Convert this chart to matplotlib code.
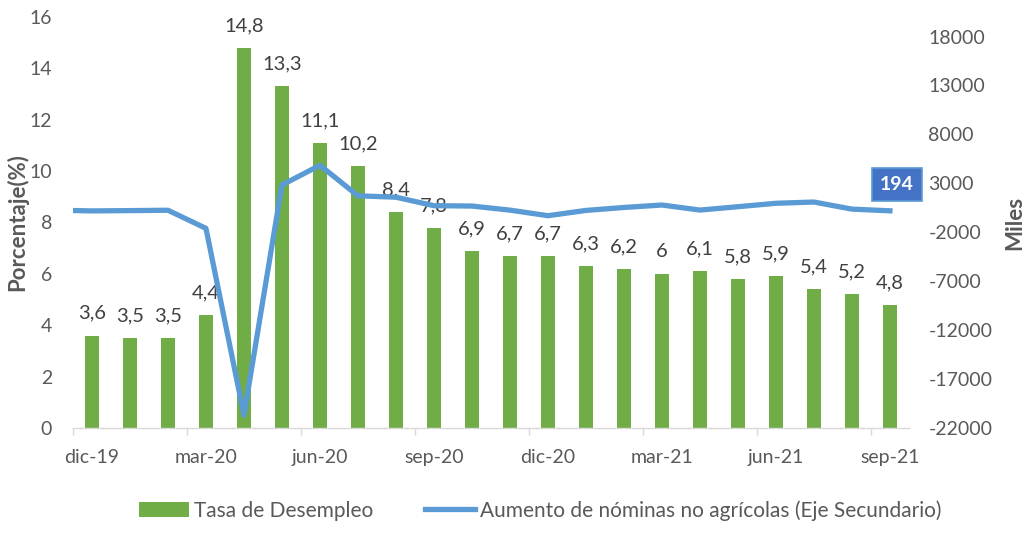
import numpy as np
import matplotlib
matplotlib.use("Agg")
import matplotlib.pyplot as plt
from matplotlib.ticker import FixedLocator, NullFormatter


months = [
    "dic-19", "ene-20", "feb-20", "mar-20", "abr-20", "may-20", "jun-20",
    "jul-20", "ago-20", "sep-20", "oct-20", "nov-20", "dic-20", "ene-21",
    "feb-21", "mar-21", "abr-21", "may-21", "jun-21", "jul-21", "ago-21",
    "sep-21",
]

unemployment = [
    3.6, 3.5, 3.5, 4.4, 14.8, 13.3, 11.1, 10.2, 8.4, 7.8, 6.9,
    6.7, 6.7, 6.3, 6.2, 6.0, 6.1, 5.8, 5.9, 5.4, 5.2, 4.8,
]

# nóminas (miles), first value is nov-19 so the line runs into the left edge
payroll_months = ["nov-19"] + months
payrolls = [
    261, 184, 214, 251, -1600, -20679, 2833, 4846, 1726, 1583, 716, 680,
    264, -306, 233, 536, 785, 269, 614, 962, 1091, 366, 194,
]

left_ticks = [0, 2, 4, 6, 8, 10, 12, 14, 16]
right_ticks = [-22000, -17000, -12000, -7000, -2000, 3000, 8000, 13000, 18000]

GREEN = "#70AD47"
BLUE = "#5B9BD5"
TEXT = "#595959"
LABEL = "#404040"

plt.rcParams["font.family"] = ["Lato", "DejaVu Sans"]
plt.rcParams["axes.unicode_minus"] = False


def fmt(v):
    return f"{v:g}".replace(".", ",")


def main():

    fig = plt.figure(figsize=(10.35, 5.34), dpi=100)
    ax = fig.add_axes([0.0705, 0.1985, 0.8077, 0.7697])

    x = np.arange(len(months))

    bars = ax.bar(x, unemployment, width=0.37, color=GREEN,
                  label="Tasa de Desempleo", zorder=2)

    for bar, v in zip(bars, unemployment):
        ax.annotate(
            fmt(v),
            (bar.get_x() + bar.get_width() / 2, bar.get_height()),
            xytext=(0, 16),
            textcoords="offset points",
            ha="center",
            va="center",
            fontsize=14.5,
            color=LABEL,
            zorder=5,
        )

    ax.set_xlim(-0.5, 21.5)
    ax.set_ylim(0, 16)
    ax.set_yticks(left_ticks)
    ax.tick_params(axis="y", length=0, pad=15, labelsize=14, colors=TEXT)

    # ticks between months, labels under the bars
    ax.xaxis.set_major_locator(FixedLocator(np.arange(-0.5, 22, 3)))
    ax.xaxis.set_major_formatter(NullFormatter())
    ax.xaxis.set_minor_locator(FixedLocator(x[::3]))
    ax.set_xticklabels(months[::3], minor=True)
    ax.tick_params(axis="x", which="major", length=5, width=1,
                   color="#D9D9D9")
    ax.tick_params(axis="x", which="minor", length=0, pad=15,
                   labelsize=14, labelcolor=TEXT)

    for side in ["top", "right", "left"]:
        ax.spines[side].set_visible(False)
    ax.spines["bottom"].set_color("#D9D9D9")
    ax.spines["bottom"].set_linewidth(1)

    ax.set_ylabel("Porcentaje(%)", fontsize=16, fontweight="bold",
                  color=TEXT)
    ax.yaxis.set_label_coords(-0.054, 0.5)

    ax2 = ax.twinx()
    px = np.arange(-1, len(months))
    ax2.plot(px, payrolls, color=BLUE, linewidth=3.8,
             solid_joinstyle="round",
             label="Aumento de nóminas no agrícolas (Eje Secundario)",
             zorder=3)
    ax2.set_ylim(-22000, 20000)
    ax2.set_yticks(right_ticks)
    ax2.tick_params(axis="y", length=0, pad=14, labelsize=14, colors=TEXT)
    for side in ["top", "right", "left", "bottom"]:
        ax2.spines[side].set_visible(False)
    ax2.set_xlim(-0.5, 21.5)

    ax2.set_ylabel("Miles", fontsize=16, fontweight="bold", color=TEXT)
    ax2.yaxis.set_label_coords(1.114, 0.5)

    ax2.annotate(
        f"{payrolls[-1]}",
        (px[-1], payrolls[-1]),
        xytext=(5, 19),
        textcoords="offset points",
        ha="center",
        va="center",
        fontsize=14,
        fontweight="bold",
        color="white",
        bbox=dict(boxstyle="square,pad=0.42", fc="#4472C4", ec="#5B9BD5",
                  lw=1.2),
        zorder=6,
    )

    handles = [bars, ax2.get_lines()[0]]
    labels = [h.get_label() for h in handles]
    fig.legend(
        handles,
        labels,
        loc="lower center",
        bbox_to_anchor=(0.522, -0.01),
        ncol=2,
        frameon=False,
        fontsize=15,
        labelcolor=TEXT,
        handlelength=2.4,
        handleheight=0.75,
        handletextpad=0.25,
        columnspacing=2.5,
    )

    fig.savefig("out.png", dpi=100)


if __name__ == "__main__":
    main()
